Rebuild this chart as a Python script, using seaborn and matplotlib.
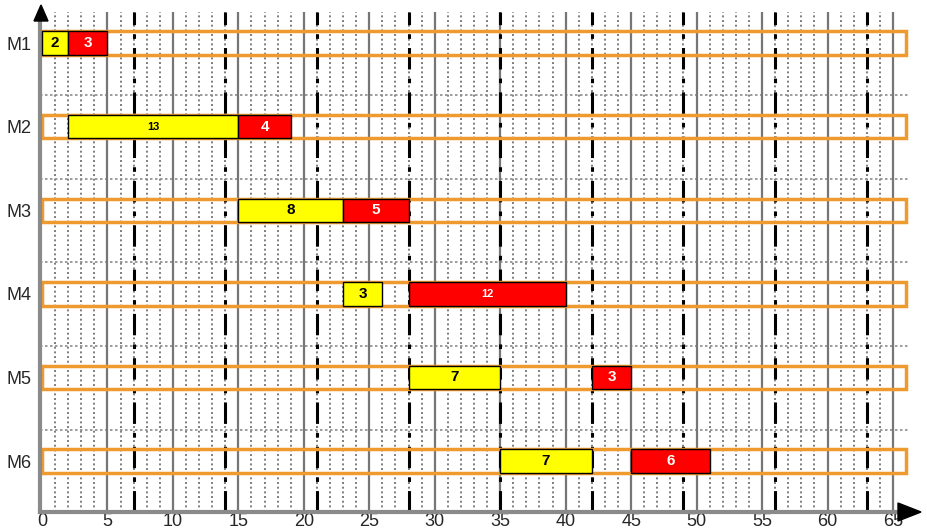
#Gantt chart of two operations per machine, drawn over a fine time grid

import matplotlib.pyplot as plt
from matplotlib.patches import Polygon, Rectangle
import seaborn as sns
import numpy as np

machines = ['M1', 'M2', 'M3', 'M4', 'M5', 'M6']

#first operation (yellow) and second operation (red) on each machine
op1_start = [0, 2, 15, 23, 28, 35]
op1_dur = [2, 13, 8, 3, 7, 7]
op2_start = [2, 15, 23, 28, 42, 45]
op2_dur = [3, 4, 5, 12, 3, 6]

x_ticks = list(range(0, 66, 5))
horizon = 66

sns.set_style('white')
plt.rcParams['font.family'] = ['Liberation Sans', 'DejaVu Sans']

fig = plt.figure(figsize=(9.27, 5.32), dpi=100)
W, H = 927, 532
ax = fig.add_axes([40 / W, 1 - 512 / H, 870 / W, 500 / H])

rows = np.arange(1, len(machines) + 1)
ax.set_xlim(-0.15, 66.3)
ax.set_ylim(6.61, 0.629)

#grid: dotted every unit, solid every 5, dash-dot every 7
for v in range(1, 66):
    ax.axvline(v, color='#7d7d7d', lw=1.4, ls=(0, (1, 1.4)), zorder=0)
for v in x_ticks[1:]:
    ax.axvline(v, color='#767676', lw=1.6, zorder=0.5)
for v in range(7, 66, 7):
    ax.axvline(v, color='black', lw=2.2, ls=(0, (7, 3, 1.5, 3)), zorder=0.6)
for r in rows[:-1]:
    ax.axhline(r + 0.625, color='#8c8c8c', lw=1.2, ls=(0, (1.5, 1.5)), zorder=0)

bar_h = 0.28
ax.barh(rows, op1_dur, left=op1_start, height=bar_h, color='#FFFF00',
        edgecolor='black', lw=1, zorder=3)
ax.barh(rows, op2_dur, left=op2_start, height=bar_h, color='#FF0000',
        edgecolor='black', lw=1, zorder=3)

#orange outline of every machine lane
for r in rows:
    ax.add_patch(Rectangle((0, r - bar_h / 2), horizon, bar_h, fill=False,
                           edgecolor='#EE9A2E', lw=2.5, zorder=2, clip_on=False))

for r, s, d in zip(rows, op1_start, op1_dur):
    ax.text(s + d / 2, r, str(d), ha='center', va='center', color='black',
            fontsize=8 if d >= 10 else 11, fontweight='bold', zorder=4)
for r, s, d in zip(rows, op2_start, op2_dur):
    ax.text(s + d / 2, r, str(d), ha='center', va='center', color='white',
            fontsize=8 if d >= 10 else 11, fontweight='bold', zorder=4)

ax.set_yticks(rows)
ax.set_yticklabels(machines, fontsize=13)
ax.set_xticks(x_ticks)
ax.set_xticklabels([str(t) for t in x_ticks], fontsize=13)
ax.tick_params(axis='y', length=0, pad=6)
ax.tick_params(axis='x', length=0, pad=1)

for side in ['top', 'right']:
    ax.spines[side].set_visible(False)
for side in ['left', 'bottom']:
    ax.spines[side].set_color('#8a8a8a')
    ax.spines[side].set_linewidth(3)

#arrow heads on the two axes
fig.patches.append(Polygon([(34 / W, 1 - 21 / H), (48 / W, 1 - 21 / H), (41 / W, 1 - 5 / H)],
                           closed=True, color='black', transform=fig.transFigure))
fig.patches.append(Polygon([(898 / W, 1 - 503 / H), (898 / W, 1 - 521 / H), (921 / W, 1 - 512 / H)],
                           closed=True, color='black', transform=fig.transFigure))

plt.savefig('out.png', dpi=100)
